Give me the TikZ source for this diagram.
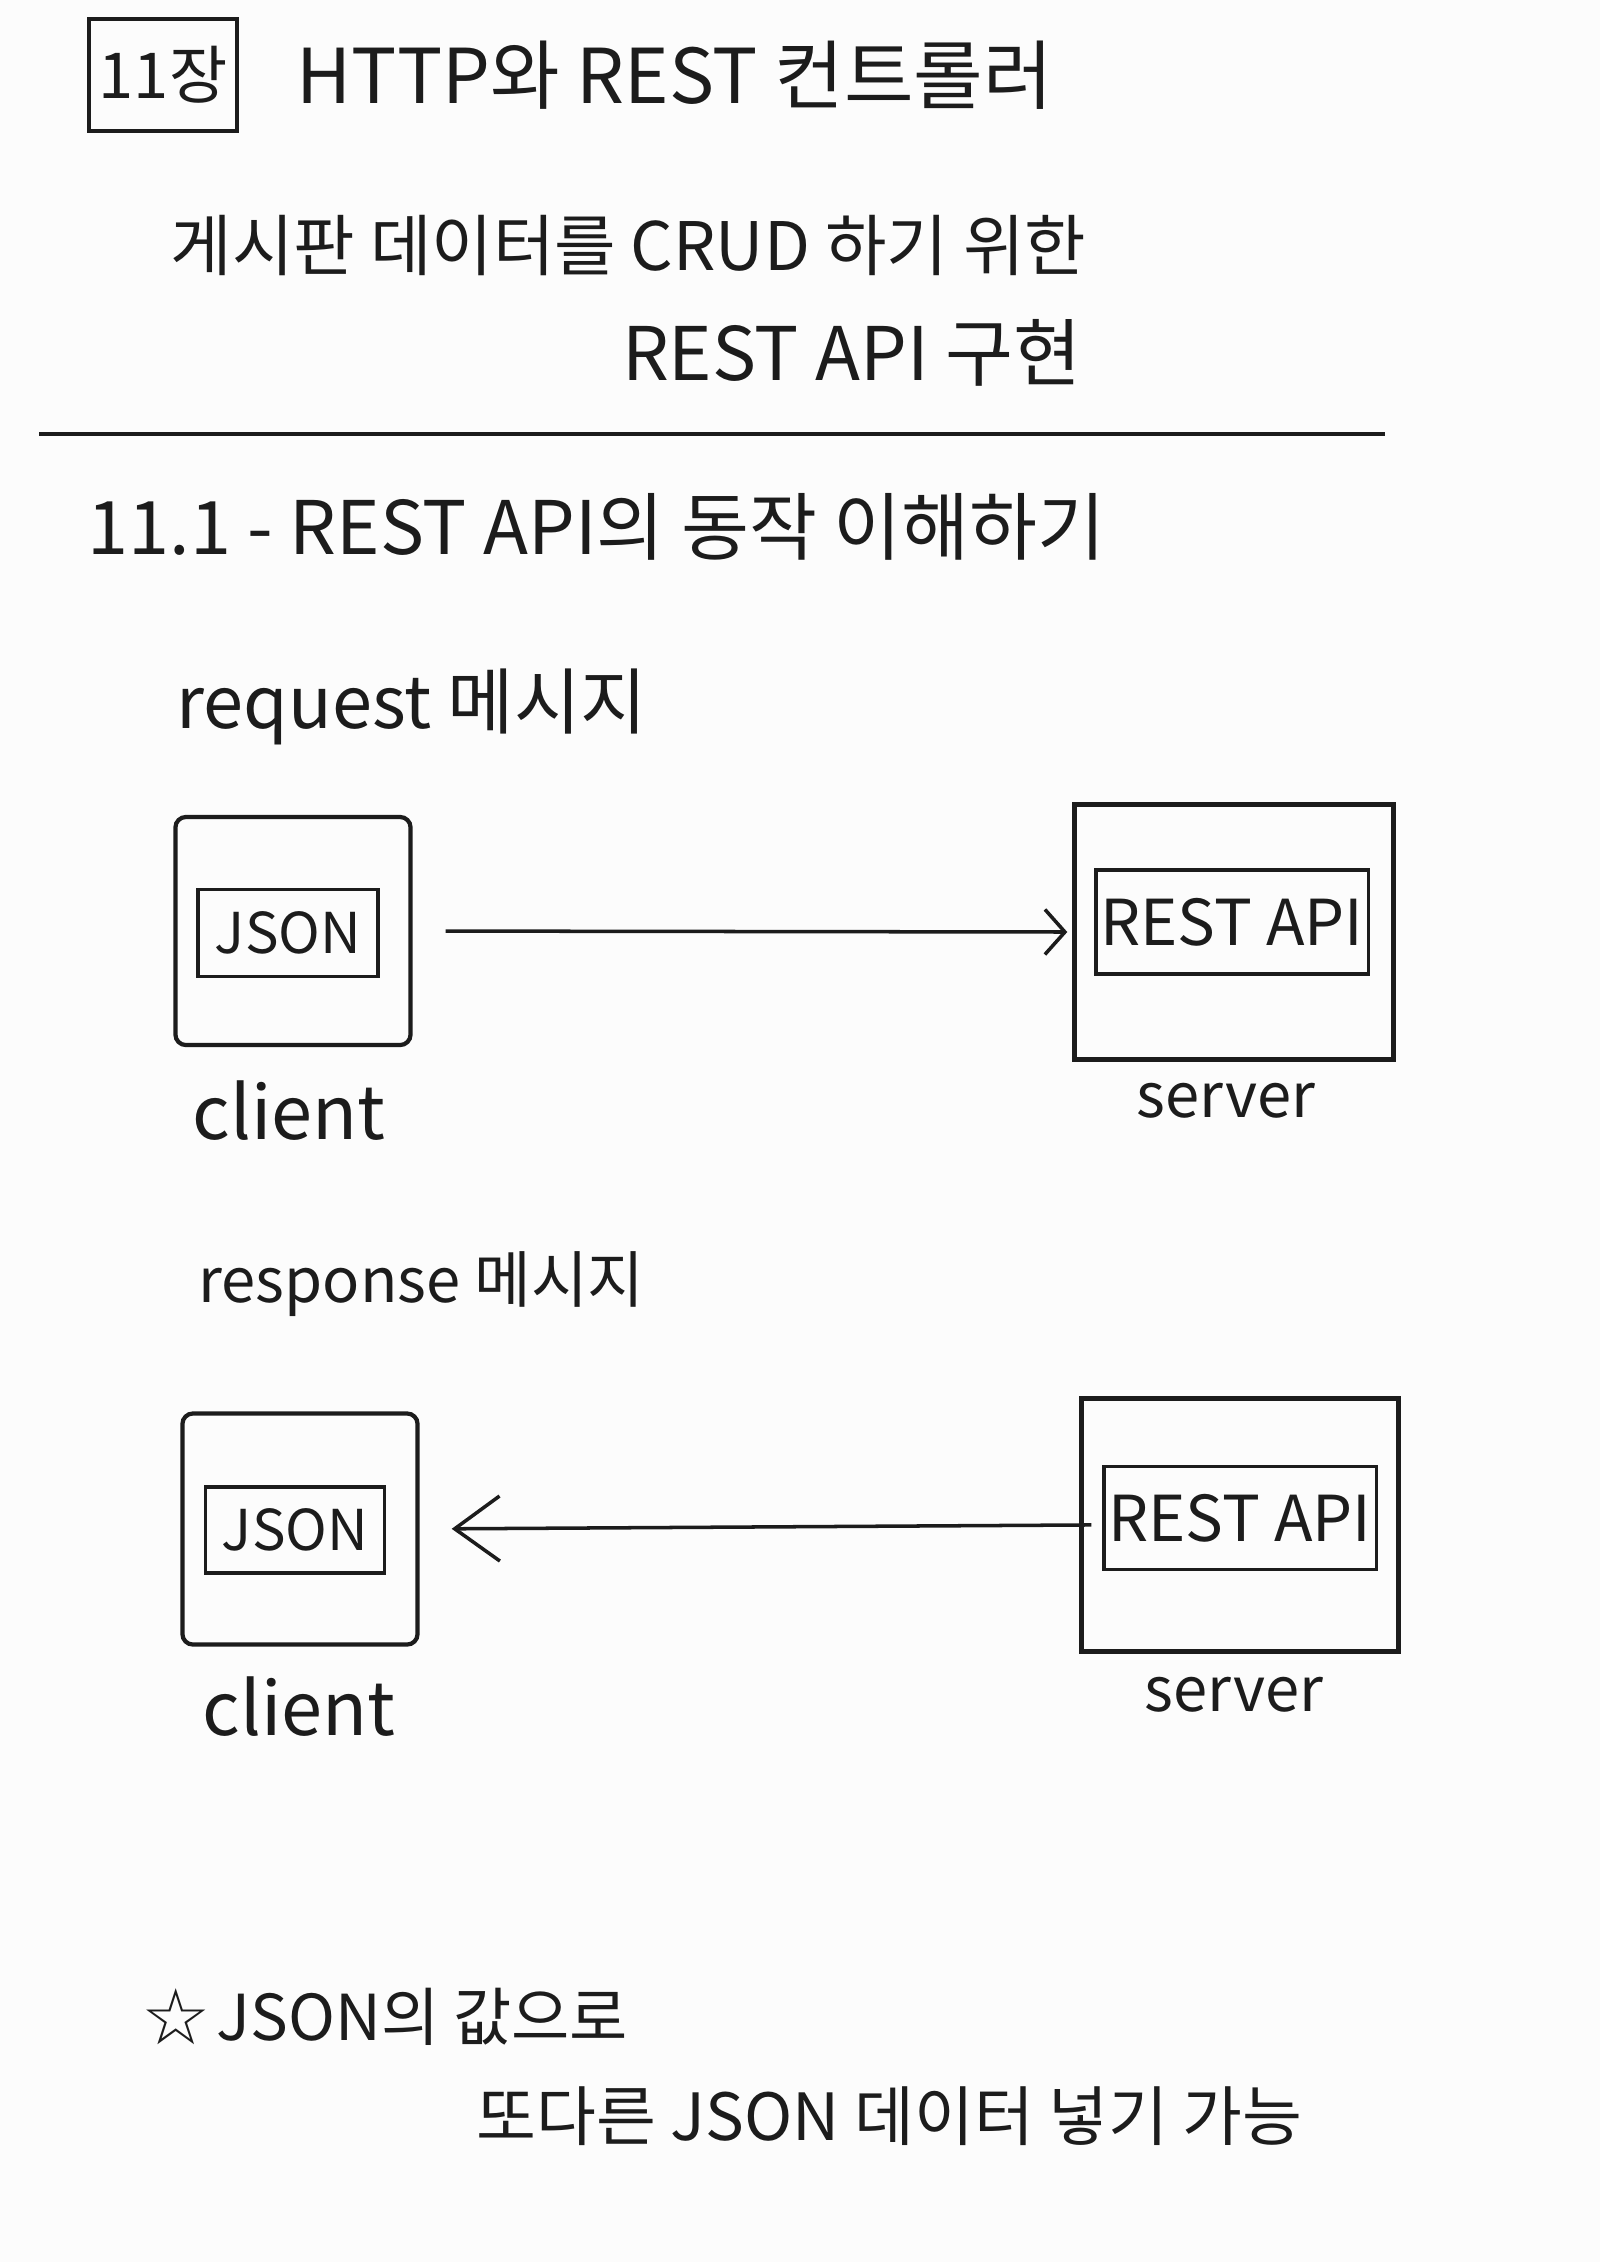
\documentclass[tikz,border=0pt]{standalone}
\usepackage{fontspec}
\setmainfont{Noto Sans CJK KR}
\newfontfamily\symfont{DejaVu Sans}
\usetikzlibrary{arrows.meta}
\definecolor{paper}{RGB}{252,252,252}
\definecolor{ink}{RGB}{28,28,28}

\begin{document}
\begin{tikzpicture}[x=0.01cm,y=-0.01cm,
  every node/.style={text=ink, inner sep=0pt, font=\fontsize{19}{23}\selectfont},
  frame/.style={draw=ink, line width=1.2pt},
  datbox/.style={draw=ink, line width=0.9pt},
  msg/.style={draw=ink, line width=1pt}]
\fill[paper] (0,0) rectangle (1600,2262);
% heading
\node[frame, minimum width=1.48cm, minimum height=1.12cm, font=\fontsize{18}{21}\selectfont] (chap) at (163,75) {11장};
\node[anchor=west, font=\fontsize{21.5}{26}\selectfont] (title) at (296,75) {HTTP와 REST 컨트롤러};
\node[anchor=west, font=\fontsize{19}{23}\selectfont] (goal) at (170,245) {게시판 데이터를 CRUD 하기 위한};
\node[anchor=east, font=\fontsize{21}{25}\selectfont] (goal2) at (1082,353) {REST API 구현};
\draw[ink, line width=1pt] (39,434) -- (1385,434);
\node[anchor=west, font=\fontsize{21}{25}\selectfont] (sec) at (87,527) {11.1 - REST API의 동작 이해하기};
% request
\node[anchor=west, font=\fontsize{20.5}{24}\selectfont] (req) at (176,707) {request 메시지};
\node[frame, rounded corners=3pt, minimum width=2.35cm, minimum height=2.28cm] (cli1) at (293,931) {};
\node[datbox, minimum width=1.8cm, minimum height=0.87cm, font=\fontsize{16}{19}\selectfont] (json1) at (288,933) {JSON};
\node[frame, minimum width=3.19cm, minimum height=2.55cm] (srv1) at (1234,932) {};
\node[datbox, minimum width=2.72cm, minimum height=1.04cm, font=\fontsize{18}{21}\selectfont] (api1) at (1232,922) {REST API};
\node[font=\fontsize{21}{25}\selectfont] (cname1) at (289,1111) {client};
\node[font=\fontsize{17.5}{21}\selectfont] (sname1) at (1226,1101) {server};
\draw[msg, -{Straight Barb[length=0.2cm,width=0.45cm]}, shorten <=0.33cm, shorten >=0.05cm] (cli1.east) -- (srv1.west);
% response
\node[anchor=west, font=\fontsize{17.5}{21}\selectfont] (resp) at (198,1284) {response 메시지};
\node[frame, rounded corners=3pt, minimum width=2.35cm, minimum height=2.31cm] (cli2) at (300,1529) {};
\node[datbox, minimum width=1.79cm, minimum height=0.86cm, font=\fontsize{16}{19}\selectfont] (json2) at (295,1530) {JSON};
\node[frame, minimum width=3.17cm, minimum height=2.53cm] (srv2) at (1240,1525) {};
\node[datbox, minimum width=2.72cm, minimum height=1.03cm, font=\fontsize{18}{21}\selectfont] (api2) at (1240,1518) {REST API};
\node[font=\fontsize{21}{25}\selectfont] (cname2) at (299,1707) {client};
\node[font=\fontsize{17.5}{21}\selectfont] (sname2) at (1234,1695) {server};
\draw[msg, -{Straight Barb[length=0.45cm,width=0.65cm]}, shorten <=-0.12cm, shorten >=0.32cm] (srv2.west) -- (cli2.east);
% note
\node[font=\symfont\fontsize{22}{26}\selectfont] (star) at (176,2017) {☆};
\node[anchor=west, font=\fontsize{18}{22}\selectfont] (note) at (216,2017) {JSON의 값으로};
\node[anchor=west, font=\fontsize{18.5}{22}\selectfont] (note2) at (476,2116) {또다른 JSON 데이터 넣기 가능};
\end{tikzpicture}
\end{document}
